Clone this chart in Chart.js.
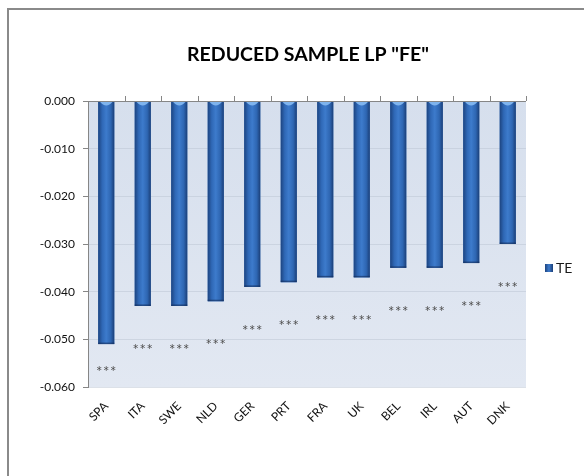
<!DOCTYPE html>
<html>
<head>
<meta charset="utf-8">
<script src="https://cdn.jsdelivr.net/npm/chart.js@4/dist/chart.umd.min.js"></script>
<style>
  html, body { margin: 0; padding: 0; background: #ffffff; }
  #wrap { width: 584px; height: 476px; }
</style>
</head>
<body>
<div id="wrap"><canvas id="c" width="584" height="476"></canvas></div>
<script>
// Country codes along the category axis
const categories = ['SPA', 'ITA', 'SWE', 'NLD', 'GER', 'PRT', 'FRA', 'UK', 'BEL', 'IRL', 'AUT', 'DNK'];
// TE estimates per country
const teValues = [-0.051, -0.043, -0.043, -0.042, -0.039, -0.038, -0.037, -0.037, -0.035, -0.035, -0.034, -0.030];
// Significance markers printed under each bar
const significance = ['***', '***', '***', '***', '***', '***', '***', '***', '***', '***', '***', '***'];
// Value axis range and step
const yMin = -0.06;
const yMax = 0;
const yStep = 0.01;
const chartTitle = 'REDUCED SAMPLE LP "FE"';
const seriesName = 'TE';

const FONT = 'Lato, "Open Sans", "DejaVu Sans", sans-serif';

function barGradient(ctx, left, width) {
  const g = ctx.createLinearGradient(left, 0, left + width, 0);
  g.addColorStop(0, '#1d4480');
  g.addColorStop(0.25, '#2f68b6');
  g.addColorStop(0.5, '#3d7bcc');
  g.addColorStop(0.78, '#2e66b2');
  g.addColorStop(1, '#1b3f78');
  return g;
}

const excelLook = {
  id: 'excelLook',
  beforeDraw(chart) {
    const ctx = chart.ctx;
    const a = chart.chartArea;
    ctx.save();
    ctx.fillStyle = '#ffffff';
    ctx.fillRect(0, 0, chart.width, chart.height);
    // outer frame
    ctx.strokeStyle = '#8a8a8a';
    ctx.lineWidth = 2;
    ctx.beginPath();
    ctx.moveTo(8, chart.height + 2);
    ctx.lineTo(8, 9);
    ctx.lineTo(chart.width + 2, 9);
    ctx.stroke();
    // plot area fill
    const g = ctx.createLinearGradient(0, a.top, 0, a.bottom);
    g.addColorStop(0, '#d6dfed');
    g.addColorStop(1, '#e2e8f2');
    ctx.fillStyle = g;
    ctx.fillRect(a.left, a.top, a.right - a.left, a.bottom - a.top);
    ctx.restore();
  },
  afterDatasetsDraw(chart) {
    const ctx = chart.ctx;
    const a = chart.chartArea;
    const meta = chart.getDatasetMeta(0);
    ctx.save();
    meta.data.forEach((el, i) => {
      const p = el.getProps(['x', 'y', 'base', 'width'], true);
      const left = p.x - p.width / 2;
      ctx.fillStyle = barGradient(ctx, left, p.width);
      ctx.fillRect(left, p.base, p.width, p.y - p.base);
      // darker rim along the bar end
      ctx.fillStyle = 'rgba(20,45,90,0.6)';
      ctx.fillRect(left, p.y - 1.5, p.width, 1.5);
      // light cap at the zero line
      ctx.fillStyle = '#7fb4ee';
      ctx.beginPath();
      ctx.moveTo(left + 1.5, p.base);
      ctx.lineTo(left + p.width - 1.5, p.base);
      ctx.quadraticCurveTo(p.x, p.base + 8, left + 1.5, p.base);
      ctx.fill();
      // significance stars, one glyph at a time
      ctx.fillStyle = '#505050';
      ctx.font = '15px ' + FONT;
      ctx.textAlign = 'center';
      ctx.textBaseline = 'middle';
      const sy = Math.min(p.y + 44, a.bottom - 15);
      const chars = significance[i].split('');
      const gap = 7;
      chars.forEach((c, k) => {
        ctx.fillText(c, p.x + (k - (chars.length - 1) / 2) * gap, sy);
      });
    });
    // category axis line at zero with upward tick marks
    const zy = chart.scales.y.getPixelForValue(0);
    ctx.strokeStyle = '#868686';
    ctx.lineWidth = 1;
    ctx.beginPath();
    ctx.moveTo(a.left, Math.round(zy) + 0.5);
    ctx.lineTo(a.right, Math.round(zy) + 0.5);
    const step = (a.right - a.left) / categories.length;
    for (let i = 1; i <= categories.length; i++) {
      const tx = Math.round(a.left + i * step) + 0.5;
      ctx.moveTo(tx, zy - 5);
      ctx.lineTo(tx, zy);
    }
    ctx.stroke();
    ctx.restore();
  },
  afterDraw(chart) {
    const ctx = chart.ctx;
    ctx.save();
    // title
    ctx.fillStyle = '#000000';
    ctx.font = 'bold 19.5px ' + FONT;
    ctx.textAlign = 'center';
    ctx.textBaseline = 'middle';
    ctx.fillText(chartTitle, 308, 55);
    // legend
    const lx = 545, ly = 264, ls = 8;
    const lg = ctx.createLinearGradient(lx, 0, lx + ls, 0);
    lg.addColorStop(0, '#1d4480');
    lg.addColorStop(0.5, '#3d7bcc');
    lg.addColorStop(1, '#1b3f78');
    ctx.fillStyle = lg;
    ctx.fillRect(lx, ly, ls, ls);
    ctx.fillStyle = '#1a1a1a';
    ctx.font = '14px ' + FONT;
    ctx.textAlign = 'left';
    ctx.fillText(seriesName, lx + 11, ly + ls / 2 + 0.5);
    ctx.restore();
  }
};

new Chart(document.getElementById('c'), {
  type: 'bar',
  data: {
    labels: categories,
    datasets: [{
      label: seriesName,
      data: teValues,
      backgroundColor: '#3572c2',
      borderWidth: 0,
      categoryPercentage: 1,
      barPercentage: 0.44
    }]
  },
  options: {
    responsive: false,
    animation: false,
    devicePixelRatio: 1,
    layout: { padding: { top: 101, right: 58, bottom: 0, left: 0 } },
    plugins: {
      legend: { display: false },
      title: { display: false },
      tooltip: { enabled: false }
    },
    scales: {
      y: {
        min: yMin,
        max: yMax,
        afterFit(s) { s.width = 88; },
        ticks: {
          stepSize: yStep,
          padding: 8,
          color: '#111111',
          font: { family: FONT, size: 12 },
          callback: v => (Math.abs(v) < 1e-9 ? 0 : v).toFixed(3)
        },
        grid: {
          color: ctx => (ctx.tick && Math.abs(ctx.tick.value) < 1e-9) ? 'rgba(0,0,0,0)' : 'rgba(185,195,210,0.5)',
          tickColor: '#868686',
          tickLength: 5,
          drawTicks: true
        },
        border: { display: true, color: '#868686', width: 1 }
      },
      x: {
        afterFit(s) { s.height = 89; },
        ticks: {
          minRotation: 45,
          maxRotation: 45,
          padding: 4,
          color: '#111111',
          font: { family: FONT, size: 12 }
        },
        grid: { display: false },
        border: { display: false }
      }
    }
  },
  plugins: [excelLook]
});
</script>
</body>
</html>
